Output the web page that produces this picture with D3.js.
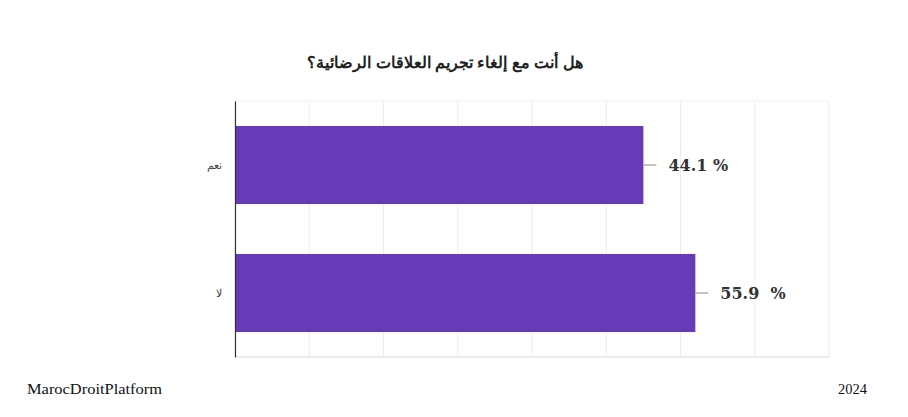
<!DOCTYPE html>
<html><head><meta charset="utf-8">
<script src="https://cdn.jsdelivr.net/npm/d3@7"></script>
<style>body{margin:0;background:#fff}svg{display:block}</style>
</head><body>
<svg id="c" width="908" height="417"></svg>
<script>
const title = "هل أنت مع إلغاء تجريم العلاقات الرضائية؟";
const categories = ["نعم", "لا"];
const barLengths = [55, 62];          // bar lengths in axis units as drawn
const valueLabels = ["44.1 %", "55.9  %"];
const gridTicks = [0, 10, 20, 30, 40, 50, 60, 70, 80];
const footerLeft = "MarocDroitPlatform";
const footerRight = "2024";

const svg = d3.select("#c");
const m = {left: 235, right: 829, top: 101, bottom: 357};
const x = d3.scaleLinear().domain([0, 80]).range([m.left, m.right]);
const y = d3.scaleBand().domain(categories).range([m.top, m.bottom]).paddingInner(0.39).paddingOuter(0.195);

// gridlines
svg.append("g").selectAll("line").data(gridTicks).join("line")
  .attr("x1", d => x(d)).attr("x2", d => x(d))
  .attr("y1", m.top).attr("y2", m.bottom)
  .attr("stroke", "#ececec").attr("stroke-width", 1);
svg.append("line").attr("x1", m.left).attr("x2", m.right).attr("y1", m.top).attr("y2", m.top)
  .attr("stroke", "#f2f2f2");
svg.append("line").attr("x1", m.left).attr("x2", m.right).attr("y1", m.bottom).attr("y2", m.bottom)
  .attr("stroke", "#e6e6e6").attr("stroke-width", 1.5);

// bars
svg.append("g").selectAll("rect").data(categories).join("rect")
  .attr("x", x(0)).attr("y", d => y(d))
  .attr("width", (d, i) => x(barLengths[i]) - x(0))
  .attr("height", y.bandwidth())
  .attr("fill", "#673ab7");

// y axis
const yAxis = d3.axisLeft(y).tickSize(0).tickPadding(13);
const ga = svg.append("g").attr("transform", `translate(${m.left},0)`).call(yAxis);
ga.select(".domain").attr("stroke", "#333").attr("stroke-width", 1.2);
ga.selectAll("text").attr("font-family", "Liberation Sans, Arial, sans-serif").attr("font-size", 11).attr("fill", "#444");

// leader lines and labels
const lg = svg.append("g");
categories.forEach((c, i) => {
  const xe = x(barLengths[i]);
  const yc = y(c) + y.bandwidth() / 2;
  lg.append("line").attr("x1", xe).attr("x2", xe + 13).attr("y1", yc).attr("y2", yc)
    .attr("stroke", "#888").attr("stroke-width", 1);
  lg.append("text").attr("x", xe + 25).attr("y", yc).attr("dy", "0.35em")
    .attr("font-family", "DejaVu Serif, serif").attr("font-weight", "bold")
    .attr("font-size", 16).attr("fill", "#333").style("white-space", "pre")
    .attr("xml:space", "preserve").text(valueLabels[i]);
});

// title
svg.append("text").attr("x", 445).attr("y", 68).attr("text-anchor", "middle")
  .attr("font-family", "Liberation Sans, Arial, sans-serif").attr("font-weight", "bold")
  .attr("font-size", 16).attr("fill", "#222").attr("direction", "rtl").text(title);

// footer
svg.append("text").attr("x", 27).attr("y", 394)
  .attr("font-family", "Liberation Serif, Times New Roman, serif").attr("font-size", 15)
  .attr("fill", "#111").attr("textLength", 135).attr("lengthAdjust", "spacingAndGlyphs").text(footerLeft);
svg.append("text").attr("x", 867).attr("y", 394).attr("text-anchor", "end")
  .attr("font-family", "Liberation Serif, Times New Roman, serif").attr("font-size", 15)
  .attr("fill", "#111").attr("textLength", 29).attr("lengthAdjust", "spacingAndGlyphs").text(footerRight);
</script>
</body></html>
